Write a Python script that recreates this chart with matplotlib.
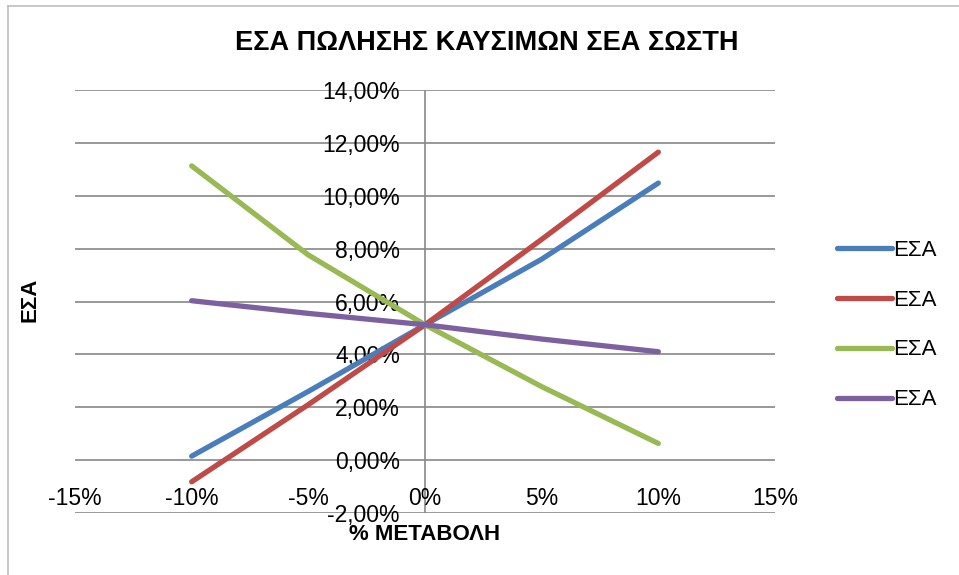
import matplotlib.pyplot as plt
from matplotlib.ticker import FuncFormatter, MultipleLocator
from matplotlib.lines import Line2D

plt.rcParams['font.family'] = ['Liberation Sans', 'DejaVu Sans']

# % change
x_vals = [-10, -5, 0, 5, 10]
# ΕΣΑ values (%)
blue_vals = [0.15, 2.6, 5.12, 7.6, 10.48]
red_vals = [-0.82, 2.1, 5.12, 8.35, 11.65]
green_vals = [11.13, 7.76, 5.12, 2.78, 0.63]
purple_vals = [6.03, 5.55, 5.12, 4.58, 4.10]

series_names = ['ΕΣΑ', 'ΕΣΑ', 'ΕΣΑ', 'ΕΣΑ']
colors = ['#4a7ebb', '#be4b48', '#98b954', '#7d60a0']

title = 'ΕΣΑ ΠΩΛΗΣΗΣ ΚΑΥΣΙΜΩΝ ΣΕΑ ΣΩΣΤΗ'
xlabel = '% ΜΕΤΑΒΟΛΗ'
ylabel = 'ΕΣΑ'

fig = plt.figure(figsize=(9.59, 5.75), dpi=100)
ax = fig.add_axes([75/959, 62/575, 700/959, 423/575])

all_series = [blue_vals, red_vals, green_vals, purple_vals]
for vals, c, name in zip(all_series, colors, series_names):
    ax.plot(x_vals, vals, color=c, lw=3.8, solid_capstyle='round',
            solid_joinstyle='round', label=name, zorder=3)

ax.set_xlim(-15, 15)
ax.set_ylim(-2, 14)
ax.yaxis.set_major_locator(MultipleLocator(2))
ax.xaxis.set_major_locator(MultipleLocator(5))
ax.yaxis.set_major_formatter(FuncFormatter(lambda v, p: f'{v:.2f}%'.replace('.', ',')))
ax.xaxis.set_major_formatter(FuncFormatter(lambda v, p: f'{v:.0f}%'))

ax.grid(axis='y', color='#878787', lw=1.2, zorder=1)
ax.axvline(0, color='#878787', lw=1.2, zorder=1)

for s in ['top', 'right', 'bottom', 'left']:
    ax.spines[s].set_visible(False)
ax.spines['left'].set_position(('data', 0))
ax.spines['bottom'].set_position(('data', 0))
ax.tick_params(axis='both', length=0, labelsize=16.5)
ax.tick_params(axis='y', pad=18)
ax.tick_params(axis='x', pad=19)
for lbl in ax.get_yticklabels():
    lbl.set_horizontalalignment('right')

fig.text(487/959, 1 - 43/575, title, ha='center', va='center',
         fontsize=19.5, fontweight='bold')
fig.text(425/959, 1 - 535/575, xlabel, ha='center', va='center',
         fontsize=16, fontweight='bold')
fig.text(30/959, 1 - 300/575, ylabel, ha='center', va='center',
         fontsize=16, fontweight='bold', rotation=90)

ax.legend(loc='center left', bbox_to_anchor=(821/959, 1 - 325/575),
          bbox_transform=fig.transFigure, frameon=False, fontsize=16,
          handlelength=2.5, handletextpad=0.05, labelspacing=1.3,
          borderpad=0.2)

# light chart border
fig.add_artist(Line2D([8/959, 8/959], [0, 1 - 6/575], color='#bfbfbf', lw=1.2,
                      transform=fig.transFigure))
fig.add_artist(Line2D([8/959, 1], [1 - 6/575, 1 - 6/575], color='#bfbfbf', lw=1.2,
                      transform=fig.transFigure))

plt.savefig('out.png', dpi=100)
